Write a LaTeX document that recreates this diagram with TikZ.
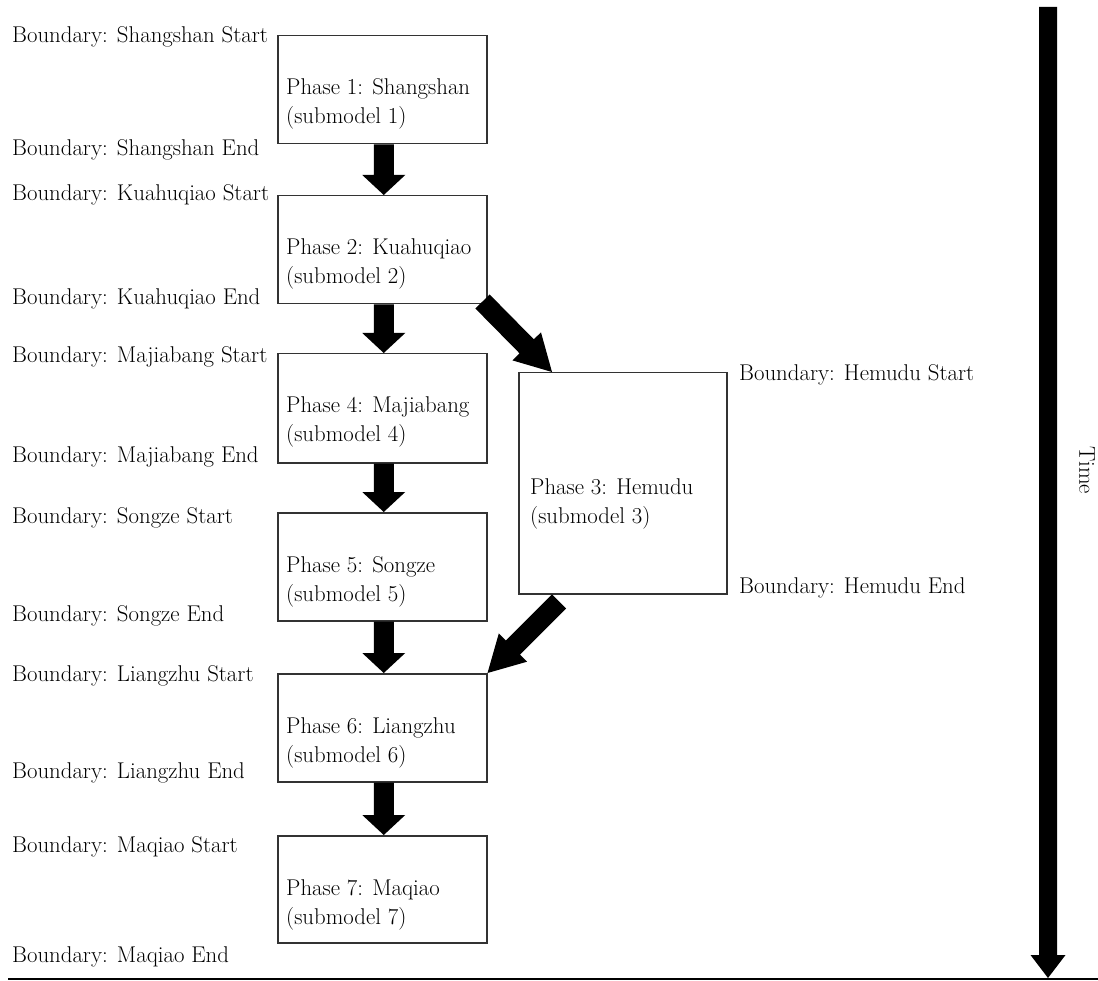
\documentclass[tikz,border=0pt]{standalone}
\usepackage{fontspec}
\usetikzlibrary{calc}
\tikzset{
  phasebox/.style={draw=black!80, line width=1.5pt, rectangle, anchor=north west, inner sep=0pt},
  phasetext/.style={anchor=base west, align=left, inner sep=0pt, text=black, font=\fontsize{22.8}{29}\selectfont},
  bound/.style={anchor=base west, inner sep=0pt, text=black, font=\fontsize{22.8}{29}\selectfont},
  arrowfill/.style={fill=black}
}
\newcommand\blockarrow[5]{%
  \coordinate (ba-h) at ($(#2)!#5!(#1)$);
  \fill[arrowfill] ($(#1)!#3!90:(#2)$) -- ($(ba-h)!#3!-90:(#1)$) -- ($(ba-h)!#4!-90:(#1)$) -- (#2) -- ($(ba-h)!#4!90:(#1)$) -- ($(ba-h)!#3!90:(#1)$) -- ($(#1)!#3!-90:(#2)$) -- cycle;
}
\begin{document}
\begin{tikzpicture}[x=1pt,y=-1pt]
\useasboundingbox (0,0) rectangle (1098,981);
% boxes
\node[phasebox, minimum width=209pt, minimum height=108pt] (p1) at (277,35) {};
\node[phasebox, minimum width=209pt, minimum height=108pt] (p2) at (277,195) {};
\node[phasebox, minimum width=209pt, minimum height=109pt] (p4) at (277,353) {};
\node[phasebox, minimum width=209pt, minimum height=108pt] (p5) at (277,512) {};
\node[phasebox, minimum width=209pt, minimum height=108pt] (p6) at (277,673) {};
\node[phasebox, minimum width=209pt, minimum height=107pt] (p7) at (277,835) {};
\node[phasebox, minimum width=208pt, minimum height=221pt] (p3) at (518,372) {};
% box texts (base = baseline of the last line)
\node[phasetext] (p1t) at ($(p1.north west)+(9,89)$) {Phase 1: Shangshan\\(submodel 1)};
\node[phasetext] (p2t) at ($(p2.north west)+(9,89)$) {Phase 2: Kuahuqiao\\(submodel 2)};
\node[phasetext] (p4t) at ($(p4.north west)+(9,89)$) {Phase 4: Majiabang\\(submodel 4)};
\node[phasetext] (p5t) at ($(p5.north west)+(9,89)$) {Phase 5: Songze\\(submodel 5)};
\node[phasetext] (p6t) at ($(p6.north west)+(9,89)$) {Phase 6: Liangzhu\\(submodel 6)};
\node[phasetext] (p7t) at ($(p7.north west)+(9,89)$) {Phase 7: Maqiao\\(submodel 7)};
\node[phasetext] (p3t) at ($(p3.north west)+(12,151)$) {Phase 3: Hemudu\\(submodel 3)};
% boundary labels
\node[bound] (b1s) at (12,43) {Boundary: Shangshan Start};
\node[bound] (b1e) at (12,156) {Boundary: Shangshan End};
\node[bound] (b2s) at (12,201) {Boundary: Kuahuqiao Start};
\node[bound] (b2e) at (12,305) {Boundary: Kuahuqiao End};
\node[bound] (b4s) at (12,363) {Boundary: Majiabang Start};
\node[bound] (b4e) at (12,462) {Boundary: Majiabang End};
\node[bound] (b5s) at (12,523) {Boundary: Songze Start};
\node[bound] (b5e) at (12,621) {Boundary: Songze End};
\node[bound] (b6s) at (12,681) {Boundary: Liangzhu Start};
\node[bound] (b6e) at (12,778) {Boundary: Liangzhu End};
\node[bound] (b7s) at (12,852) {Boundary: Maqiao Start};
\node[bound] (b7e) at (12,962) {Boundary: Maqiao End};
\node[bound] (b3s) at (739,381) {Boundary: Hemudu Start};
\node[bound] (b3e) at (739,593) {Boundary: Hemudu End};
% flow arrows
\coordinate (a12s) at ($(p1.south)+(1.5,0)$);
\coordinate (a12e) at ($(p2.north)+(1.5,0)$);
\blockarrow{a12s}{a12e}{10pt}{21.5pt}{20pt}
\coordinate (a24s) at ($(p2.south)+(1.5,0)$);
\coordinate (a24e) at ($(p4.north)+(1.5,0)$);
\blockarrow{a24s}{a24e}{10pt}{21.5pt}{20pt}
\coordinate (a45s) at ($(p4.south)+(1.5,0)$);
\coordinate (a45e) at ($(p5.north)+(1.5,0)$);
\blockarrow{a45s}{a45e}{10pt}{21.5pt}{20pt}
\coordinate (a56s) at ($(p5.south)+(1.5,0)$);
\coordinate (a56e) at ($(p6.north)+(1.5,0)$);
\blockarrow{a56s}{a56e}{10pt}{21.5pt}{20pt}
\coordinate (a67s) at ($(p6.south)+(1.5,0)$);
\coordinate (a67e) at ($(p7.north)+(1.5,0)$);
\blockarrow{a67s}{a67e}{10pt}{21.5pt}{20pt}
\coordinate (a23s) at ($(p2.south east)+(-5,-3)$);
\coordinate (a23e) at ($(p3.north west)+(34,0)$);
\blockarrow{a23s}{a23e}{10pt}{20pt}{36pt}
\coordinate (a36s) at ($(p3.south west)+(41,7)$);
\coordinate (a36e) at (p6.north east);
\blockarrow{a36s}{a36e}{10pt}{20pt}{36pt}
% time axis
\coordinate (ts) at (1048,7);
\coordinate (te) at (1048,978);
\blockarrow{ts}{te}{9pt}{17.5pt}{23pt}
\node[bound, anchor=center, rotate=-90] (time) at (1087,470) {Time};
\coordinate (ls) at (8,979);
\coordinate (le) at (1098,979);
\draw[line width=1.8pt] (ls) -- (le);
\end{tikzpicture}
\end{document}
